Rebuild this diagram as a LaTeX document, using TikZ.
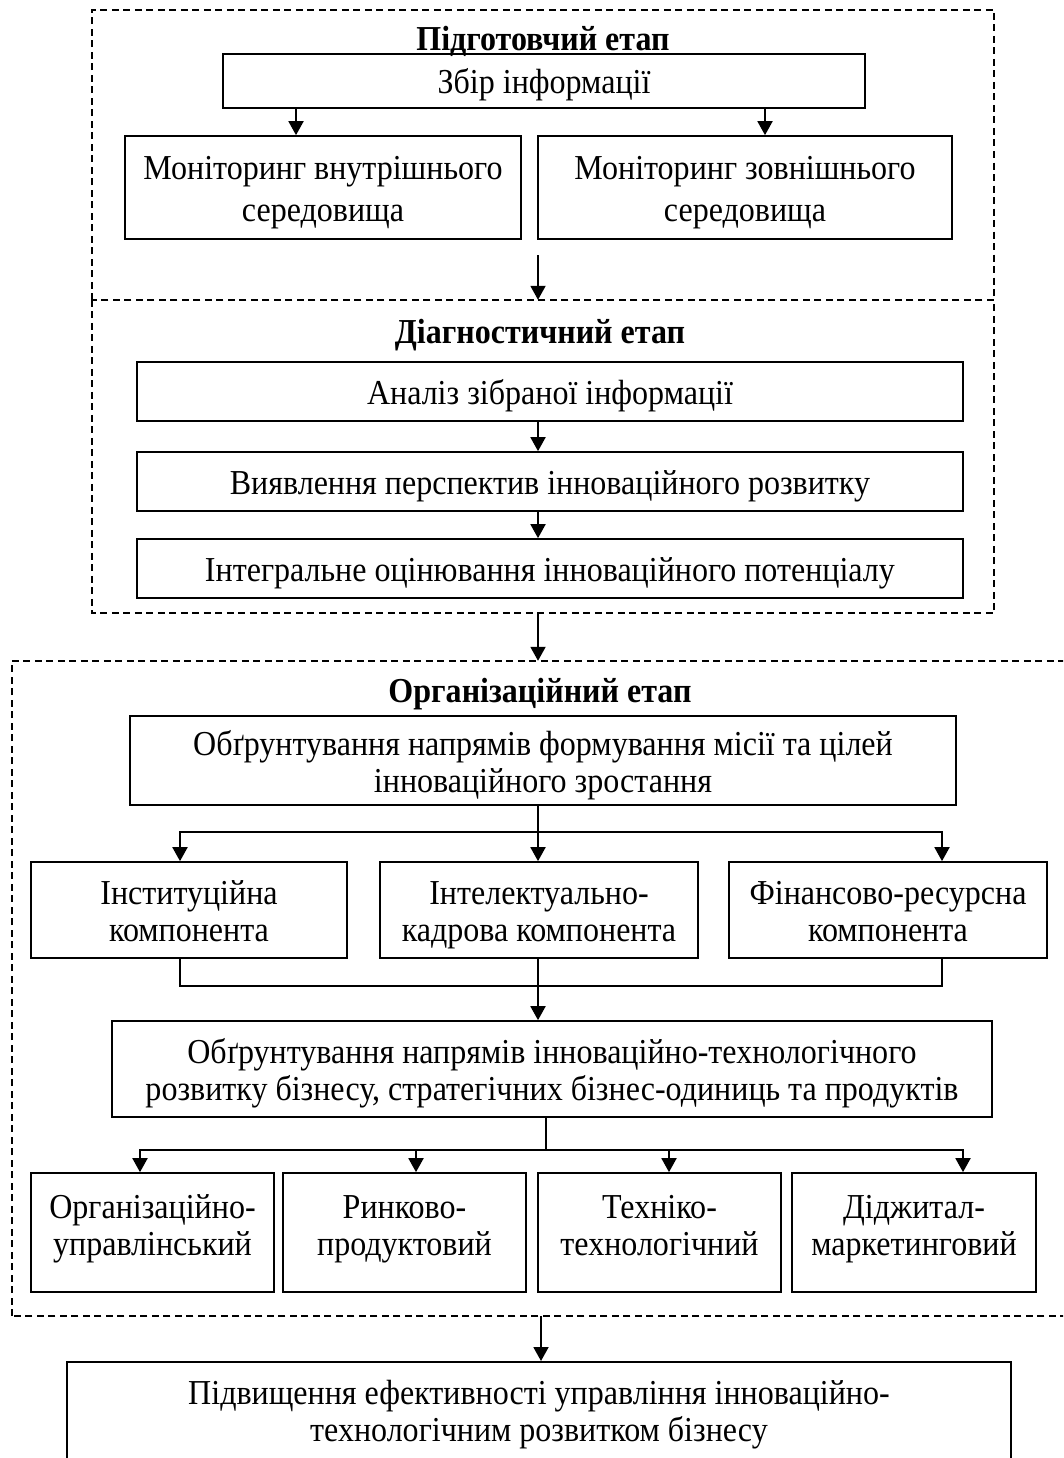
\documentclass[tikz,border=0pt]{standalone}
\usepackage{fontspec}
\setmainfont{Liberation Serif}[FakeStretch=0.915]
\usetikzlibrary{arrows.meta}
\newcommand\topstrut{\rule{0pt}{35pt}}
\begin{document}
\begin{tikzpicture}[x=1pt,y=-1pt,
  box/.style={draw, line width=1.7pt, inner sep=0pt, align=center, text depth=9pt,
    execute at begin node={\topstrut}, font=\fontsize{35}{37}\selectfont},
  frame/.style={inner sep=0pt},
  dsh/.style={line width=1.5pt, dash pattern=on 7pt off 4.5pt},
  ttl/.style={font=\fontsize{35}{37}\selectfont\bfseries, inner sep=0pt, anchor=base},
  arr/.style={line width=1.9pt, -{Triangle[width=15pt,length=14pt]}},
  ln/.style={line width=1.9pt}]
\useasboundingbox (0,0) rectangle (1063,1458);
\clip (0,0) rectangle (1063,1458);

% stage frames
\node[frame, minimum width=902pt, minimum height=290pt] (prep) at (543,155) {};
\node[frame, minimum width=902pt, minimum height=313pt] (diag) at (543,456.5) {};
\node[frame, minimum width=1068pt, minimum height=655pt] (org) at (546,988.5) {};
\draw[dsh] (prep.south west) rectangle (prep.north east);
\draw[dsh] (diag.north west) -- (diag.south west) -- (diag.south east) -- (diag.north east);
\draw[dsh] (org.south west) rectangle (org.north east);

% helper x positions
\coordinate (xa) at (296,0);
\coordinate (xb) at (765,0);
\coordinate (xc) at (538,0);
\coordinate (xl) at (180,0);
\coordinate (xr) at (942,0);
\coordinate (x1) at (140,0);
\coordinate (x2) at (416,0);
\coordinate (x3) at (669,0);
\coordinate (x4) at (963,0);
\coordinate (xf) at (541,0);

% preparatory stage
\node[ttl] (t1) at (543,51) {Підготовчий етап};
\node[box, minimum width=642pt, minimum height=54pt] (zbir) at (544,81) {Збір інформації};
\node[box, minimum width=396pt, minimum height=103pt, font=\fontsize{35}{43}\selectfont] (mon1) at (323,187.5) {\topstrut Моніторинг внутрішнього\\середовища};
\node[box, minimum width=414pt, minimum height=103pt, font=\fontsize{35}{43}\selectfont] (mon2) at (745,187.5) {\topstrut Моніторинг зовнішнього\\середовища};
\draw[arr] (zbir.south -| xa) -- (mon1.north -| xa);
\draw[arr] (zbir.south -| xb) -- (mon2.north -| xb);
\coordinate (s1) at (538,255);
\draw[arr] (s1) -- (s1 |- diag.north);

% diagnostic stage
\node[ttl] (t2) at (540,343) {Діагностичний етап};
\node[box, minimum width=826pt, minimum height=59pt] (an) at (550,391.5) {Аналіз зібраної інформації};
\node[box, minimum width=826pt, minimum height=59pt] (vy) at (550,481.5) {Виявлення перспектив інноваційного розвитку};
\node[box, minimum width=826pt, minimum height=59pt] (ig) at (550,568.5) {Інтегральне оцінювання інноваційного потенціалу};
\draw[arr] (an.south -| xc) -- (vy.north -| xc);
\draw[arr] (vy.south -| xc) -- (ig.north -| xc);
\draw[arr] (diag.south -| xc) -- (org.north -| xc);

% organisational stage
\node[ttl] (t3) at (540,702) {Організаційний етап};
\node[box, minimum width=826pt, minimum height=89pt] (ob1) at (543,760.5) {\topstrut Обґрунтування напрямів формування місії та цілей\\інноваційного зростання};
\node[box, minimum width=316pt, minimum height=96pt] (k1) at (189,910) {\topstrut Інституційна\\компонента};
\node[box, minimum width=318pt, minimum height=96pt] (k2) at (539,910) {\topstrut Інтелектуально-\\кадрова компонента};
\node[box, minimum width=318pt, minimum height=96pt] (k3) at (888,910) {\topstrut Фінансово-ресурсна\\компонента};
\coordinate (j1) at (538,832);
\draw[ln] (ob1.south -| xc) -- (j1);
\draw[arr] (j1) -| (k1.north -| xl);
\draw[arr] (j1) -| (k3.north -| xr);
\draw[arr] (j1) -- (k2.north -| xc);

\node[box, minimum width=880pt, minimum height=96pt] (ob2) at (552,1069) {\topstrut Обґрунтування напрямів інноваційно-технологічного\\розвитку бізнесу, стратегічних бізнес-одиниць та продуктів};
\coordinate (j2) at (538,986);
\draw[ln] (k1.south -| xl) |- (j2);
\draw[ln] (k3.south -| xr) |- (j2);
\draw[ln] (k2.south -| xc) -- (j2);
\draw[arr] (j2) -- (ob2.north -| xc);

\node[box, minimum width=243pt, minimum height=119pt, text depth=26pt] (d1) at (152.5,1232.5) {\topstrut Організаційно-\\управлінський};
\node[box, minimum width=243pt, minimum height=119pt, text depth=26pt] (d2) at (404.5,1232.5) {\topstrut Ринково-\\продуктовий};
\node[box, minimum width=243pt, minimum height=119pt, text depth=26pt] (d3) at (659.5,1232.5) {\topstrut Техніко-\\технологічний};
\node[box, minimum width=244pt, minimum height=119pt, text depth=26pt] (d4) at (914,1232.5) {\topstrut Діджитал-\\маркетинговий};
\coordinate (j3) at (546,1150);
\draw[ln] (ob2.south -| j3) -- (j3);
\draw[arr] (j3) -| (d1.north -| x1);
\draw[arr] (j3) -| (d2.north -| x2);
\draw[arr] (j3) -| (d3.north -| x3);
\draw[arr] (j3) -| (d4.north -| x4);

% result
\node[box, anchor=north, minimum width=944pt, inner ysep=8pt, text depth=80pt] (fin) at (539,1361) {\topstrut Підвищення ефективності управління інноваційно-\\технологічним розвитком бізнесу};
\draw[arr] (org.south -| xf) -- (fin.north -| xf);
\end{tikzpicture}
\end{document}
